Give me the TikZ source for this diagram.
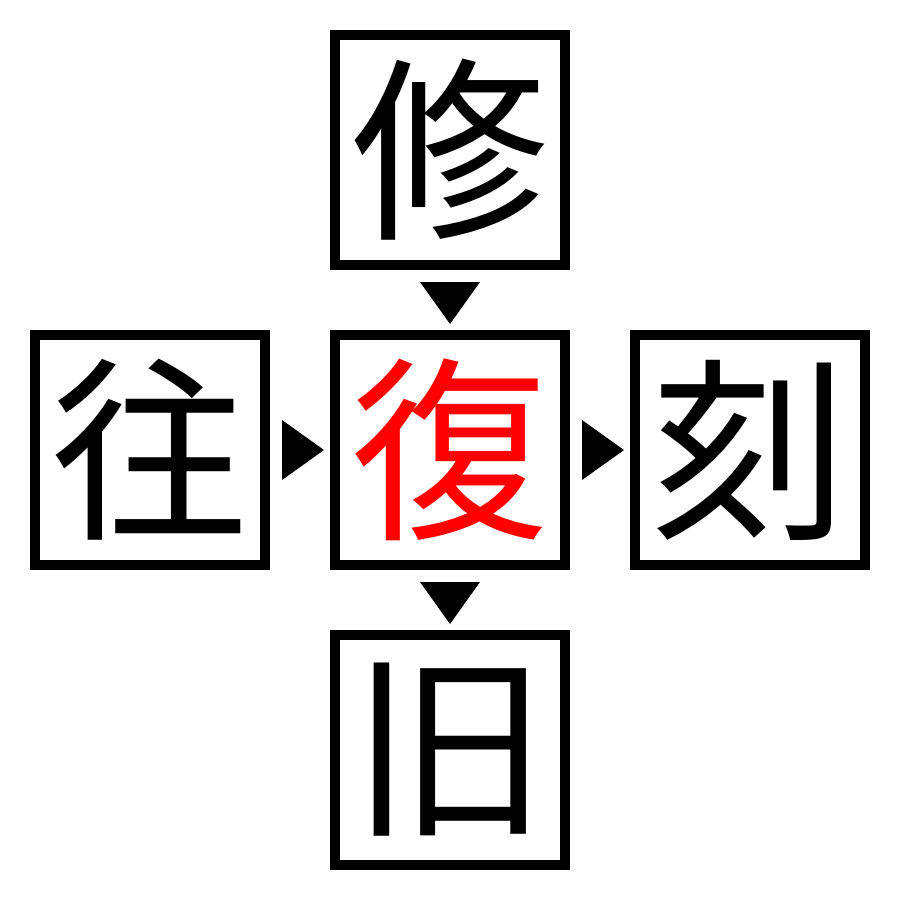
\documentclass[tikz,border=0pt]{standalone}
\usepackage{fontspec}
\newfontfamily\cjk{Noto Sans CJK JP}
\tikzset{
  charbox/.style={draw=black, line width=2.845pt, minimum width=2.3cm, minimum height=2.3cm, inner sep=0pt, font=\cjk\fontsize{56}{56}\selectfont},
  tri/.style={fill=black, draw=none}
}
\begin{document}
\begin{tikzpicture}[x=0.01cm,y=-0.01cm]
\useasboundingbox (0,0) rectangle (900,900);
\node[charbox] (top) at (450,150) {修};
\node[charbox] (left) at (150,450) {往};
\node[charbox, text=red] (mid) at (450,450) {復};
\node[charbox] (right) at (750,450) {刻};
\node[charbox] (bot) at (450,750) {旧};
\coordinate (t1) at (450,303);
\coordinate (t2) at (450,603);
\coordinate (t3) at (303,450);
\coordinate (t4) at (603,450);
\fill[tri] ([shift={(-30,-21)}]t1) -- ([shift={(30,-21)}]t1) -- ([shift={(0,21)}]t1) -- cycle;
\fill[tri] ([shift={(-30,-21)}]t2) -- ([shift={(30,-21)}]t2) -- ([shift={(0,21)}]t2) -- cycle;
\fill[tri] ([shift={(-21,-30)}]t3) -- ([shift={(-21,30)}]t3) -- ([shift={(21,0)}]t3) -- cycle;
\fill[tri] ([shift={(-21,-30)}]t4) -- ([shift={(-21,30)}]t4) -- ([shift={(21,0)}]t4) -- cycle;
\end{tikzpicture}
\end{document}
